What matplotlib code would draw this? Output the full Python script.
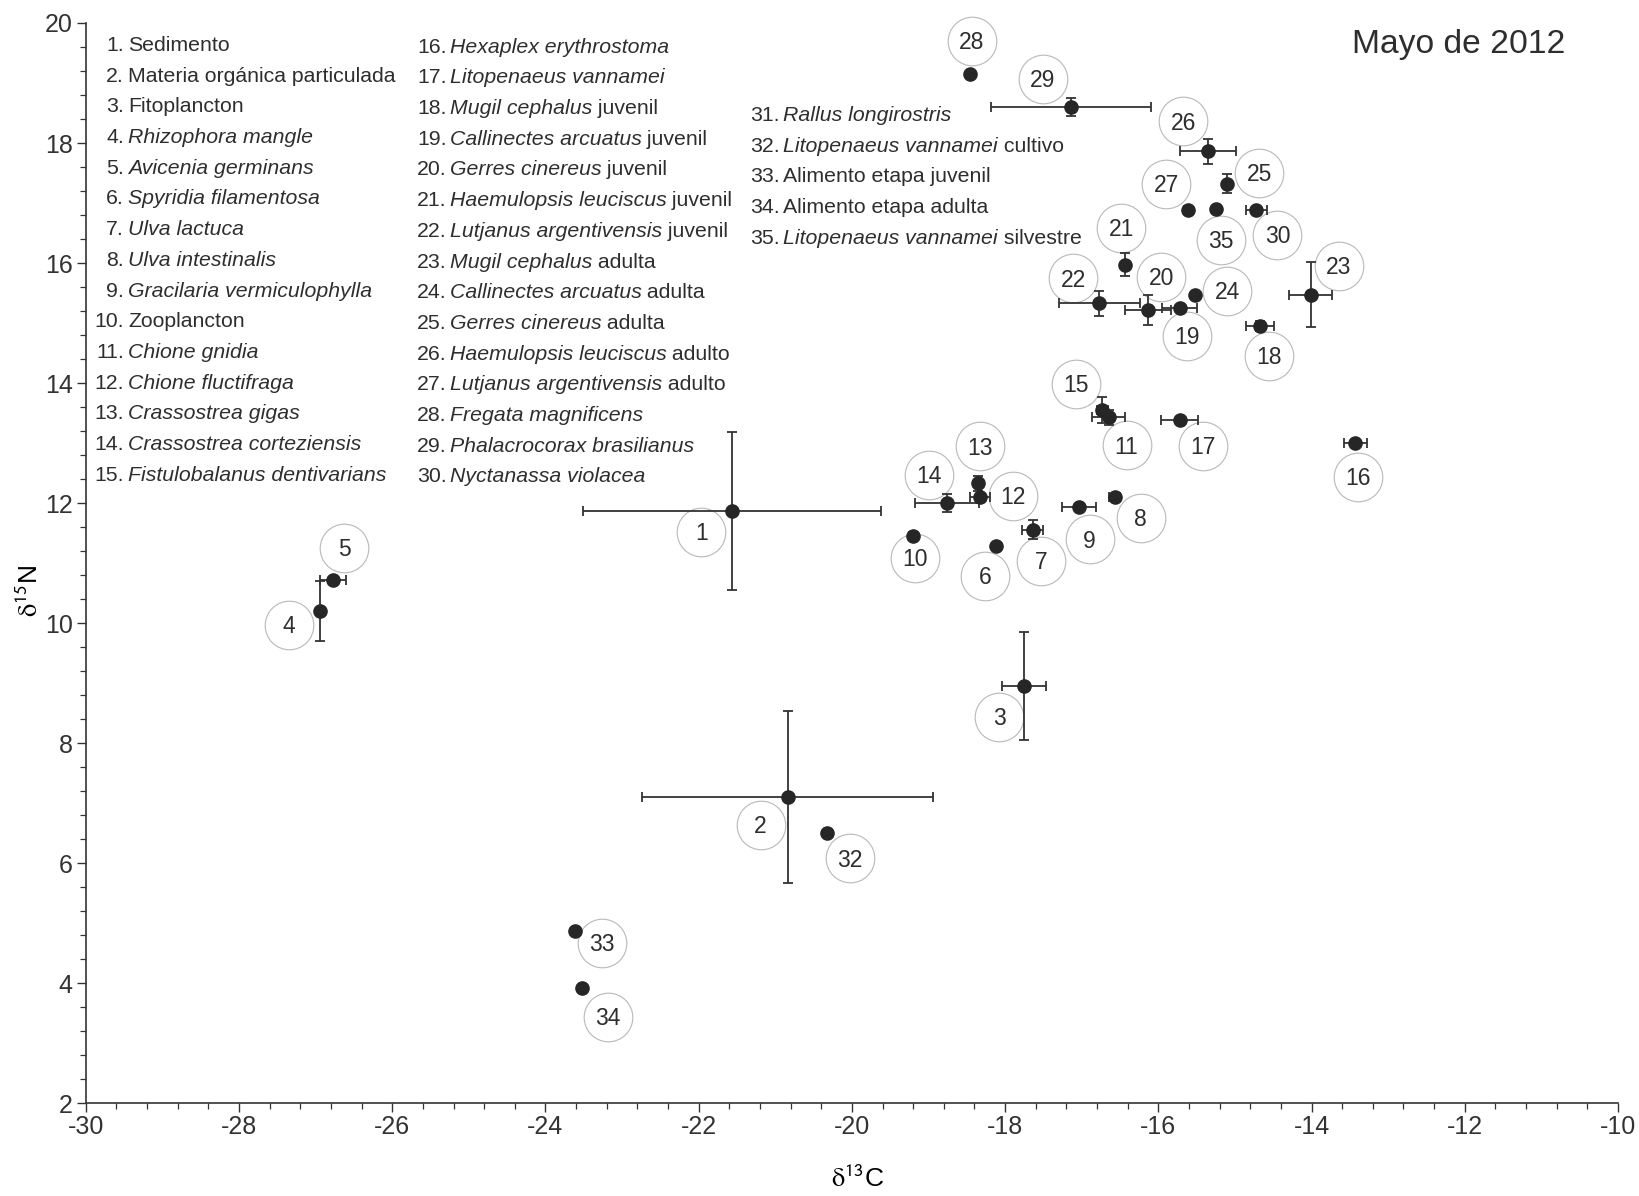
import matplotlib
matplotlib.use("Agg")
import matplotlib.pyplot as plt
from matplotlib.ticker import MultipleLocator
from matplotlib.transforms import offset_copy

plt.rcParams.update(
    {
        "font.family": "Liberation Sans",
        "mathtext.fontset": "stix",
        "axes.unicode_minus": False,
        "text.color": "#2e2e2e",
        "xtick.color": "#333333",
        "ytick.color": "#333333",
    }
)

# sample numbers and isotope values (mean, +/- sd); 0 = no error bar drawn
ids = [1, 2, 3, 4, 5, 6, 7, 8, 9, 10, 11, 12, 13, 14, 15, 16, 17, 18,
       19, 20, 21, 22, 23, 24, 25, 26, 27, 28, 29, 30, 32, 33, 34, 35]
d13c = [-21.56, -20.84, -17.75, -26.94, -26.77, -18.12, -17.64, -16.57,
        -17.04, -19.20, -16.65, -18.33, -18.36, -18.76, -16.73, -13.43,
        -15.72, -14.67, -15.72, -16.13, -16.43, -16.77, -14.01, -15.52,
        -15.10, -15.35, -15.61, -18.46, -17.14, -14.72, -20.33, -23.61,
        -23.52, -15.25]
d15n = [11.87, 7.10, 8.95, 10.21, 10.72, 11.29, 11.56, 12.10, 11.93,
        11.46, 13.43, 12.10, 12.33, 12.01, 13.55, 13.01, 13.39, 14.95,
        15.25, 15.22, 15.97, 15.33, 15.47, 15.47, 17.32, 17.86, 16.88,
        19.15, 18.60, 16.88, 6.50, 4.87, 3.93, 16.90]
sd13c = [1.945, 1.905, 0.29, 0, 0.17, 0, 0.14, 0.07, 0.22, 0.05, 0.22,
         0.13, 0, 0.42, 0.07, 0.15, 0.24, 0.18, 0.23, 0.30, 0.05, 0.53,
         0.28, 0, 0, 0.37, 0.05, 0, 1.04, 0.14, 0, 0, 0, 0]
sd15n = [1.32, 1.435, 0.90, 0.50, 0, 0, 0.16, 0.06, 0, 0.06, 0.12, 0,
         0.13, 0.15, 0.22, 0, 0.05, 0.08, 0, 0.25, 0.19, 0.21, 0.54, 0,
         0.16, 0.21, 0.05, 0, 0.15, 0, 0, 0, 0, 0]

# legend entries: (italic part, plain part)
legend_items = [
    ("", "Sedimento"),
    ("", "Materia orgánica particulada"),
    ("", "Fitoplancton"),
    ("Rhizophora mangle", ""),
    ("Avicenia germinans", ""),
    ("Spyridia filamentosa", ""),
    ("Ulva lactuca", ""),
    ("Ulva intestinalis", ""),
    ("Gracilaria vermiculophylla", ""),
    ("", "Zooplancton"),
    ("Chione gnidia", ""),
    ("Chione fluctifraga", ""),
    ("Crassostrea gigas", ""),
    ("Crassostrea corteziensis", ""),
    ("Fistulobalanus dentivarians", ""),
    ("Hexaplex erythrostoma", ""),
    ("Litopenaeus vannamei", ""),
    ("Mugil cephalus", "juvenil"),
    ("Callinectes arcuatus", "juvenil"),
    ("Gerres cinereus", "juvenil"),
    ("Haemulopsis leuciscus", "juvenil"),
    ("Lutjanus argentivensis", "juvenil"),
    ("Mugil cephalus", "adulta"),
    ("Callinectes arcuatus", "adulta"),
    ("Gerres cinereus", "adulta"),
    ("Haemulopsis leuciscus", "adulto"),
    ("Lutjanus argentivensis", "adulto"),
    ("Fregata magnificens", ""),
    ("Phalacrocorax brasilianus", ""),
    ("Nyctanassa violacea", ""),
    ("Rallus longirostris", ""),
    ("Litopenaeus vannamei", "cultivo"),
    ("", "Alimento etapa juvenil"),
    ("", "Alimento etapa adulta"),
    ("Litopenaeus vannamei", "silvestre"),
]

# where each numbered circle sits relative to its point (pixels, +y up)
label_offsets = {
    1: (-31, -21), 2: (-27, -28), 3: (-25, -31), 4: (-31, -14), 5: (11, 32),
    6: (-11, -30), 7: (8, -31), 8: (26, -21), 9: (11, -32), 10: (2, -22),
    11: (18, -28), 12: (33, 1), 13: (2, 37), 14: (-18, 28), 15: (-26, 26),
    16: (3, -34), 17: (23, -26), 18: (9, -30), 19: (7, -28), 20: (13, 33),
    21: (-4, 37), 22: (-26, 25), 23: (28, 29), 24: (32, 4), 25: (32, 11),
    26: (-25, 30), 27: (-22, 26), 28: (2, 33), 29: (-28, 28), 30: (21, -25),
    32: (23, -25), 33: (27, -12), 34: (26, -29), 35: (5, -31),
}

W, H = 1640, 1196
fig = plt.figure(figsize=(W / 100, H / 100), dpi=100)
ax = fig.add_axes([85.8 / W, 1 - 1103.4 / H, (1618 - 85.8) / W, (1103.4 - 23) / H])

ink = "#262626"
for i, x, y, xe, ye in zip(ids, d13c, d15n, sd13c, sd15n):
    ax.errorbar(
        x, y,
        xerr=xe if xe > 0 else None,
        yerr=ye if ye > 0 else None,
        fmt="o", ms=9.5, color=ink, ecolor="#333333",
        elinewidth=1.3, capsize=3.6, capthick=1.3, zorder=3,
    )
    dx, dy = label_offsets[i]
    tr = offset_copy(ax.transData, fig=fig, x=dx, y=dy, units="dots")
    ax.plot(x, y, "o", ms=35, mfc="none", mec="#b8b8b8", mew=0.8,
            transform=tr, zorder=2, clip_on=False)
    tr_txt = offset_copy(ax.transData, fig=fig, x=dx, y=dy - 0.358 * 16.5 * 100 / 72,
                         units="dots")
    ax.text(x, y, str(i), transform=tr_txt, ha="center", va="baseline",
            fontsize=16.5, color="#2e2e2e", zorder=4)

ax.set_xlim(-30, -10)
ax.set_ylim(2, 20)
ax.xaxis.set_major_locator(MultipleLocator(2))
ax.yaxis.set_major_locator(MultipleLocator(2))
ax.xaxis.set_minor_locator(MultipleLocator(0.4))
ax.yaxis.set_minor_locator(MultipleLocator(0.4))
ax.tick_params(which="major", length=6.5, width=1.0, labelsize=18, pad=3)
ax.tick_params(axis="x", which="major", pad=1.5)
ax.tick_params(which="minor", length=4.3, width=0.9)
for s in ["top", "right"]:
    ax.spines[s].set_visible(False)
for s in ["left", "bottom"]:
    ax.spines[s].set_color("#333333")
    ax.spines[s].set_linewidth(1.2)

ax.set_xlabel(r"$\mathrm{\delta}^{\mathsf{13}}$C", fontsize=19)
ax.set_ylabel(r"$\mathrm{\delta}^{\mathsf{15}}$N", fontsize=19)
ax.xaxis.set_label_coords(0.504, -0.058)
ax.yaxis.set_label_coords(-0.028, 0.474)

ax.text(1565.7 / W, 1 - 45 / H, "Mayo de 2012", transform=fig.transFigure,
        ha="right", va="center", fontsize=24.2)

# numbered legend in three blocks
fs = 15.3
base_shift = 0.358 * fs * 100 / 72
columns = [(0, 15, 124, 128, 43.3), (15, 30, 446.5, 449.5, 45.0), (30, 35, 780, 783.5, 113.3)]
for start, stop, num_x, name_x, y0 in columns:
    for k in range(start, stop):
        it, plain = legend_items[k]
        py = y0 + (k - start) * 30.7 + base_shift
        yy = 1 - py / H
        fig.text(num_x / W, yy, f"{k + 1}.", ha="right", va="baseline", fontsize=fs)
        if it:
            t = fig.text(name_x / W, yy, it, ha="left", va="baseline",
                         fontsize=fs, style="italic")
            if plain:
                ax.annotate(" " + plain, xy=(1, 0), xycoords=t, ha="left",
                            va="bottom", fontsize=fs, annotation_clip=False)
        else:
            fig.text(name_x / W, yy, plain, ha="left", va="baseline", fontsize=fs)

fig.savefig("out.png", dpi=100, facecolor="white")
